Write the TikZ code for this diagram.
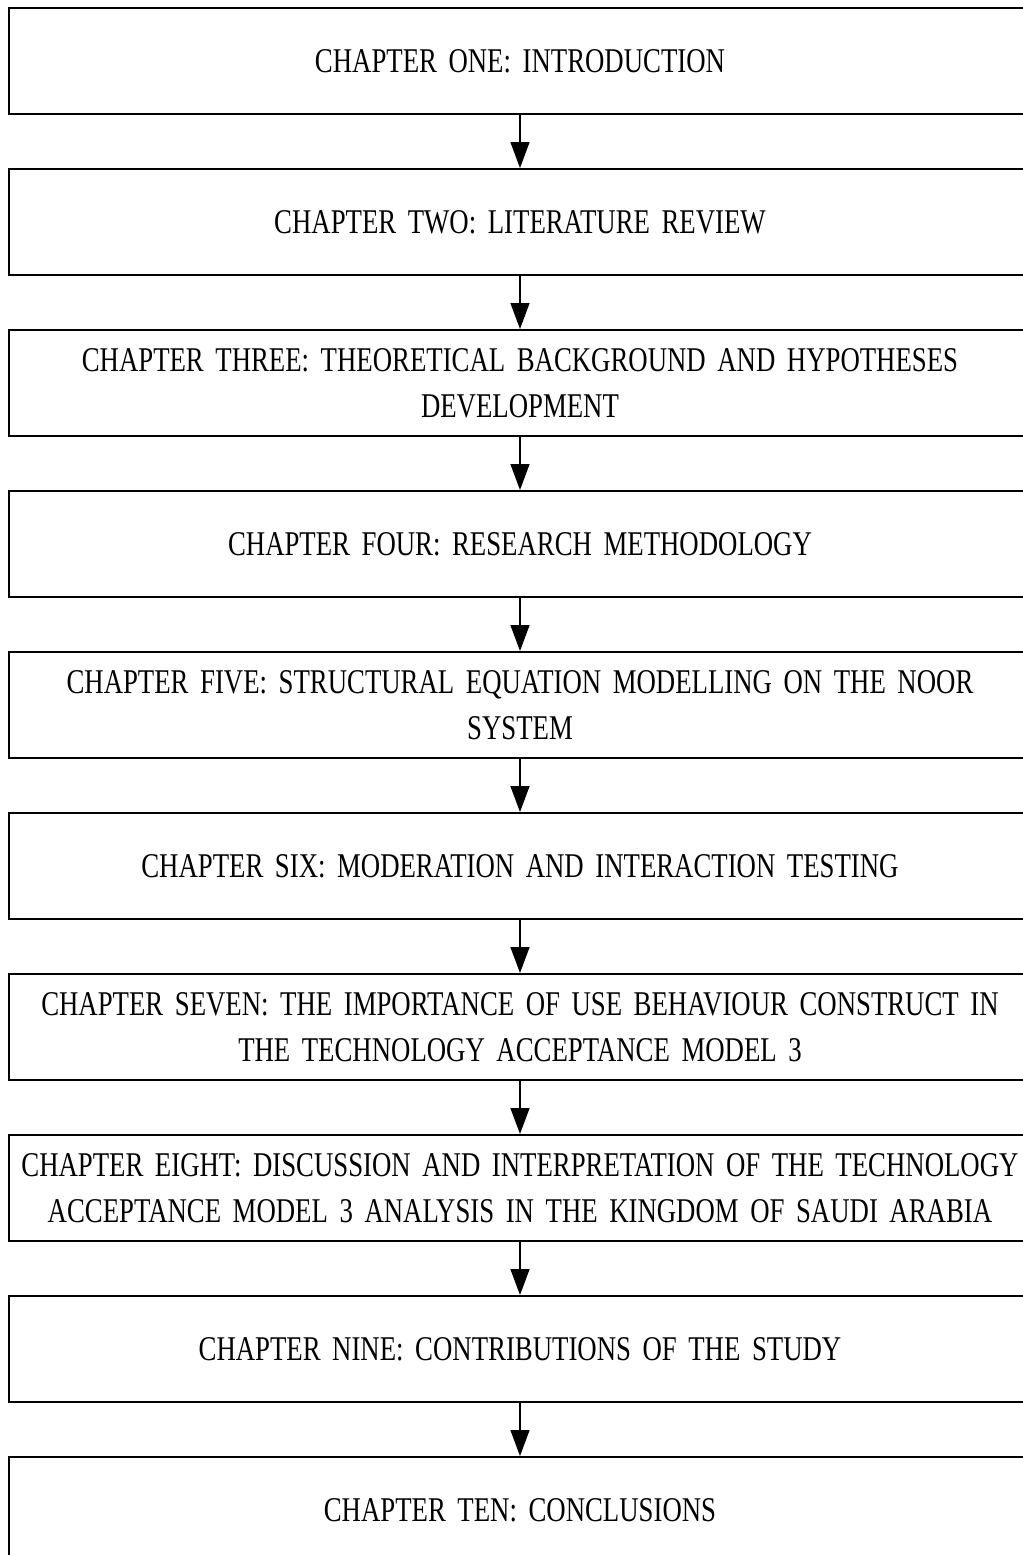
\documentclass[tikz,border=0pt]{standalone}
\usepackage{fontspec}
\setmainfont[FakeStretch=0.772, WordSpace=0.8]{Liberation Serif}
\usepackage{tikz}
\usetikzlibrary{arrows.meta,positioning}
\hyphenpenalty=10000

\begin{document}
\begin{tikzpicture}[
  node distance=26.5pt,
  chapter/.style={rectangle, draw=black, line width=1pt, fill=white,
    minimum width=511pt, minimum height=53pt, text width=511pt,
    align=center, inner sep=0pt, font=\fontsize{17.35}{23}\selectfont},
  arr/.style={-{Triangle[length=13pt, width=9.5pt]}, line width=0.7pt, black},
]
\useasboundingbox (0,0) rectangle (511.5pt,-777.5pt);
\node[chapter] (c1) at (260pt,-30.5pt) {CHAPTER ONE: INTRODUCTION};
\node[chapter, below=of c1] (c2) {CHAPTER TWO: LITERATURE REVIEW};
\node[chapter, below=of c2] (c3) {CHAPTER THREE: THEORETICAL BACKGROUND AND HYPOTHESES\\DEVELOPMENT};
\node[chapter, below=of c3] (c4) {CHAPTER FOUR: RESEARCH METHODOLOGY};
\node[chapter, below=of c4] (c5) {CHAPTER FIVE: STRUCTURAL EQUATION MODELLING ON THE NOOR\\SYSTEM};
\node[chapter, below=of c5] (c6) {CHAPTER SIX: MODERATION AND INTERACTION TESTING};
\node[chapter, below=of c6] (c7) {CHAPTER SEVEN: THE IMPORTANCE OF USE BEHAVIOUR CONSTRUCT IN\\THE TECHNOLOGY ACCEPTANCE MODEL 3};
\node[chapter, below=of c7] (c8) {CHAPTER EIGHT: DISCUSSION AND INTERPRETATION OF THE TECHNOLOGY\\ACCEPTANCE MODEL 3 ANALYSIS IN THE KINGDOM OF SAUDI ARABIA};
\node[chapter, below=of c8] (c9) {CHAPTER NINE: CONTRIBUTIONS OF THE STUDY};
\node[chapter, below=of c9] (c10) {CHAPTER TEN: CONCLUSIONS};
\draw[arr] (c1) -- (c2);
\draw[arr] (c2) -- (c3);
\draw[arr] (c3) -- (c4);
\draw[arr] (c4) -- (c5);
\draw[arr] (c5) -- (c6);
\draw[arr] (c6) -- (c7);
\draw[arr] (c7) -- (c8);
\draw[arr] (c8) -- (c9);
\draw[arr] (c9) -- (c10);
\end{tikzpicture}
\end{document}
